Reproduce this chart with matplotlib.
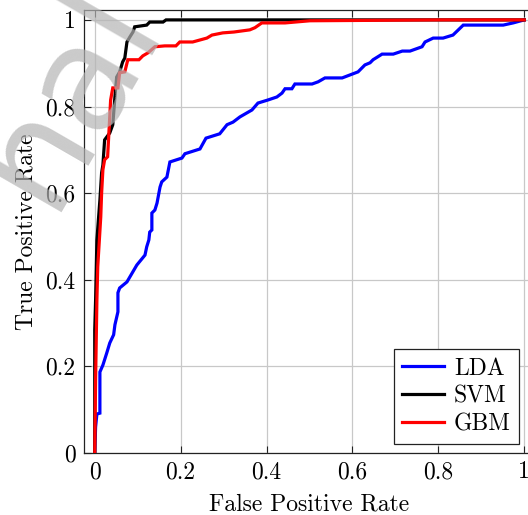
from __future__ import annotations

import matplotlib

matplotlib.use("Agg")
import matplotlib.pyplot as plt
from matplotlib.ticker import FixedLocator, FuncFormatter


OUT_PATH = "out.png"

# ROC curves (false positive rate, true positive rate)
LDA_FPR = [0.0, 0.002, 0.005, 0.012, 0.012, 0.019, 0.028, 0.035, 0.044, 0.047,
           0.054, 0.054, 0.058, 0.075, 0.098, 0.117, 0.121, 0.126, 0.128, 0.133,
           0.133, 0.14, 0.145, 0.152, 0.156, 0.168, 0.175, 0.203, 0.21, 0.245,
           0.259, 0.291, 0.308, 0.322, 0.338, 0.366, 0.38, 0.403, 0.424, 0.436,
           0.443, 0.459, 0.466, 0.506, 0.52, 0.536, 0.576, 0.613, 0.629, 0.641,
           0.648, 0.669, 0.695, 0.716, 0.734, 0.762, 0.769, 0.788, 0.811, 0.834,
           0.858, 0.951, 0.974, 1.0]
LDA_TPR = [0.0, 0.06, 0.09, 0.092, 0.187, 0.203, 0.231, 0.254, 0.273, 0.296,
           0.326, 0.37, 0.381, 0.395, 0.434, 0.457, 0.476, 0.492, 0.51, 0.515,
           0.554, 0.561, 0.577, 0.614, 0.626, 0.637, 0.672, 0.681, 0.691, 0.702,
           0.727, 0.737, 0.758, 0.764, 0.776, 0.792, 0.808, 0.815, 0.822, 0.831,
           0.841, 0.841, 0.852, 0.852, 0.857, 0.866, 0.866, 0.88, 0.896, 0.901,
           0.908, 0.921, 0.921, 0.928, 0.928, 0.938, 0.949, 0.958, 0.958, 0.965,
           0.988, 0.988, 0.993, 1.0]

SVM_FPR = [0.0, 0.0, 0.002, 0.005, 0.012, 0.016, 0.019, 0.023, 0.035, 0.042,
           0.047, 0.051, 0.058, 0.065, 0.07, 0.075, 0.082, 0.089, 0.093, 0.121,
           0.128, 0.159, 0.166, 1.0]
SVM_TPR = [0.0, 0.284, 0.353, 0.492, 0.584, 0.647, 0.665, 0.723, 0.739, 0.758,
           0.822, 0.868, 0.88, 0.903, 0.912, 0.949, 0.961, 0.972, 0.984, 0.988,
           0.995, 0.995, 1.0, 1.0]

GBM_FPR = [0.0, 0.002, 0.005, 0.007, 0.014, 0.016, 0.019, 0.023, 0.03, 0.037,
           0.042, 0.054, 0.058, 0.07, 0.077, 0.103, 0.112, 0.124, 0.14, 0.163,
           0.189, 0.198, 0.228, 0.261, 0.273, 0.298, 0.324, 0.361, 0.373, 0.389,
           0.443, 0.501, 0.804, 1.0]
GBM_TPR = [0.0, 0.169, 0.353, 0.43, 0.545, 0.6, 0.654, 0.677, 0.684, 0.815,
           0.843, 0.843, 0.878, 0.88, 0.908, 0.908, 0.917, 0.924, 0.938, 0.94,
           0.94, 0.949, 0.949, 0.958, 0.965, 0.97, 0.972, 0.977, 0.982, 0.993,
           0.993, 0.998, 1.0, 1.0]

SERIES_NAMES = ["LDA", "SVM", "GBM"]
SERIES_COLORS = ["#0000ff", "#000000", "#ff0000"]
TICKS = [0, 0.2, 0.4, 0.6, 0.8, 1]


def fmt_tick(value: float, _pos) -> str:
    return f"{value:g}"


def main() -> None:
    plt.rcParams["font.family"] = ["cmr10", "DejaVu Serif"]
    plt.rcParams["mathtext.fontset"] = "cm"
    plt.rcParams["axes.formatter.use_mathtext"] = True

    fig = plt.figure(figsize=(5.28, 5.15), dpi=100)
    ax = fig.add_axes((84 / 528, 62 / 515, 451 / 528, 443.5 / 515))

    curves = [(LDA_FPR, LDA_TPR), (SVM_FPR, SVM_TPR), (GBM_FPR, GBM_TPR)]
    for (fpr, tpr), name, color in zip(curves, SERIES_NAMES, SERIES_COLORS):
        ax.plot(fpr, tpr, color=color, linewidth=2.3, label=name,
                solid_joinstyle="miter", zorder=3)

    ax.set_xlim(-0.025, 1.025)
    ax.set_ylim(0, 1.024)
    ax.xaxis.set_major_locator(FixedLocator(TICKS))
    ax.yaxis.set_major_locator(FixedLocator(TICKS))
    ax.xaxis.set_major_formatter(FuncFormatter(fmt_tick))
    ax.yaxis.set_major_formatter(FuncFormatter(fmt_tick))
    ax.grid(True, color="#c8c8c8", linewidth=0.9, zorder=0)
    ax.set_axisbelow(True)
    ax.tick_params(direction="in", top=True, right=True, length=5, width=0.8,
                   labelsize=17, pad=6, color="#222222")
    for spine in ax.spines.values():
        spine.set_linewidth(0.9)
        spine.set_color("#222222")

    ax.set_xlabel("False Positive Rate", fontsize=17, labelpad=7)
    ax.set_ylabel("True Positive Rate", fontsize=17, labelpad=6)

    legend = ax.legend(
        loc="lower right",
        bbox_to_anchor=(519 / 528, 71 / 515),
        bbox_transform=fig.transFigure,
        fontsize=17,
        frameon=True,
        fancybox=False,
        framealpha=1.0,
        edgecolor="#222222",
        handlelength=1.8,
        handletextpad=0.4,
        labelspacing=0.25,
        borderpad=0.35,
        borderaxespad=0.0,
    )
    legend.get_frame().set_linewidth(0.9)

    # light grey watermark fragment over the top-left corner
    fig.text(49 / 528, 1 - 212 / 515, "nal", fontsize=105, rotation=60,
             rotation_mode="anchor", ha="left", va="baseline",
             family="DejaVu Sans", color="#b4b4b4", alpha=0.7, zorder=10)

    fig.savefig(OUT_PATH, dpi=100)
    plt.close(fig)


if __name__ == "__main__":
    main()
